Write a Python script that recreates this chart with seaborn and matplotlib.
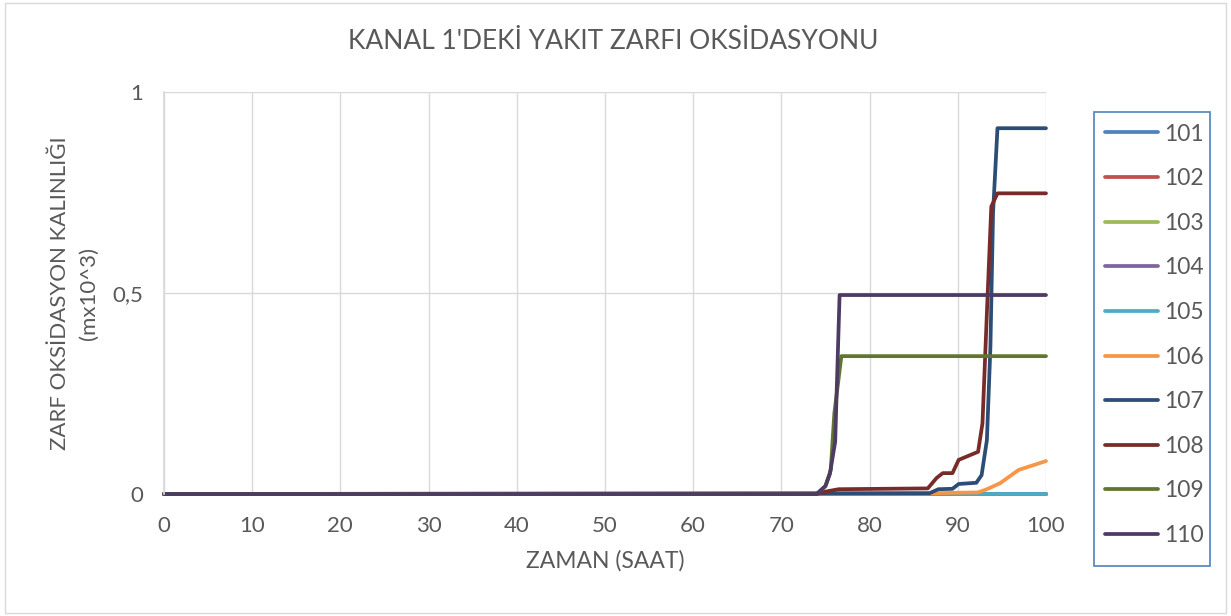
import pandas as pd
import matplotlib
matplotlib.use("Agg")
import matplotlib.pyplot as plt
from matplotlib.patches import Rectangle
from matplotlib.lines import Line2D
import seaborn as sns

# Veriler
SERILER = ["101", "102", "103", "104", "105", "106", "107", "108", "109", "110"]
RENKLER = ["#4F81BD", "#C0504D", "#9BBB59", "#8064A2", "#4BACC6",
           "#F79646", "#2C4D75", "#772C2A", "#5F7530", "#4D3B62"]

t_sifir = [0, 100]
y_sifir = [0, 0]

t_106 = [0, 86.8, 92.3, 93.3, 94.8, 96.9, 100]
y_106 = [0, 0.002, 0.004, 0.012, 0.027, 0.06, 0.082]

t_107 = [0, 86.8, 87.8, 89.4, 90.1, 92.1, 92.7, 93.3, 93.7, 94.0, 94.5, 100]
y_107 = [0, 0.002, 0.012, 0.013, 0.025, 0.028, 0.047, 0.134, 0.366, 0.70, 0.91, 0.91]

t_108 = [0, 74.0, 75.0, 76.5, 86.6, 87.6, 88.3, 89.4, 90.1, 92.3, 92.8, 93.3, 93.8, 94.5, 100]
y_108 = [0, 0, 0.006, 0.012, 0.014, 0.04, 0.052, 0.052, 0.085, 0.105, 0.176, 0.45, 0.715, 0.748, 0.748]

t_109 = [0, 74.0, 75.0, 75.6, 76.0, 76.8, 100]
y_109 = [0, 0, 0.02, 0.06, 0.2, 0.343, 0.343]

t_110 = [0, 74.0, 75.0, 75.5, 76.1, 76.6, 100]
y_110 = [0, 0, 0.02, 0.05, 0.13, 0.495, 0.495]

X_TICKS = list(range(0, 101, 10))
Y_TICKS = [0, 0.5, 1]
Y_TICK_LABELS = ["0", "0,5", "1"]

veri = {
    "101": (t_sifir, y_sifir), "102": (t_sifir, y_sifir), "103": (t_sifir, y_sifir),
    "104": (t_sifir, y_sifir), "105": (t_sifir, y_sifir), "106": (t_106, y_106),
    "107": (t_107, y_107), "108": (t_108, y_108), "109": (t_109, y_109),
    "110": (t_110, y_110),
}
parcalar = []
for ad in SERILER:
    t, y = veri[ad]
    parcalar.append(pd.DataFrame({"zaman": t, "kalinlik": y, "seri": ad}))
df = pd.concat(parcalar, ignore_index=True)

sns.set_theme(style="white")
plt.rcParams["font.family"] = ["Lato", "DejaVu Sans"]
GRI = "#595959"

fig = plt.figure(figsize=(12.31, 6.16), dpi=100)
ax = fig.add_axes([0.1332, 0.198, 0.7165, 0.6526])

sns.lineplot(data=df, x="zaman", y="kalinlik", hue="seri", hue_order=SERILER,
             palette=RENKLER, estimator=None, sort=False, linewidth=2.7, ax=ax,
             legend=False)
for ln in ax.lines:
    ln.set_clip_on(False)
    ln.set_solid_joinstyle("round")

ax.set_xlim(0, 100)
ax.set_ylim(0, 1)
ax.set_xticks(X_TICKS)
ax.set_yticks(Y_TICKS)
ax.set_yticklabels(Y_TICK_LABELS)
ax.grid(True, color="#d9d9d9", linewidth=1.0)
ax.set_axisbelow(True)
for s in ["top", "right", "bottom"]:
    ax.spines[s].set_visible(False)
ax.spines["left"].set_color("#d9d9d9")
ax.tick_params(axis="both", length=0, labelsize=16, colors=GRI)
ax.tick_params(axis="x", pad=16)
ax.tick_params(axis="y", pad=15)

ax.set_xlabel("ZAMAN (SAAT)", fontsize=16.5, color=GRI, labelpad=10)
ax.set_ylabel("ZARF OKSİDASYON KALINLIĞI\n(mx10^3)", fontsize=16, color=GRI,
              labelpad=10, linespacing=1.55)
fig.text(0.4985, 0.932, "KANAL 1'DEKİ YAKIT ZARFI OKSİDASYONU", ha="center", va="center",
         fontsize=19, color=GRI)

# Lejant: çerçevesiz lejant + ayrı çerçeve
tutamaclar = [Line2D([0], [0], color=c, linewidth=2.7) for c in RENKLER]
leg = fig.legend(tutamaclar, SERILER, loc="upper left", bbox_to_anchor=(0.8976, 0.7995),
                 frameon=False, fontsize=16.5, labelspacing=1.03,
                 handlelength=2.3, borderpad=0, handletextpad=0.3, borderaxespad=0)
for txt in leg.get_texts():
    txt.set_color(GRI)
fig.patches.append(Rectangle((0.8887, 0.0812), 0.0942, 0.737, transform=fig.transFigure,
                             fill=False, edgecolor="#4F81BD", linewidth=1.2))

fig.patches.append(Rectangle((0.004, 0.005), 0.992, 0.99, transform=fig.transFigure,
                             fill=False, edgecolor="#d9d9d9", linewidth=1))

fig.savefig("out.png", dpi=100)
